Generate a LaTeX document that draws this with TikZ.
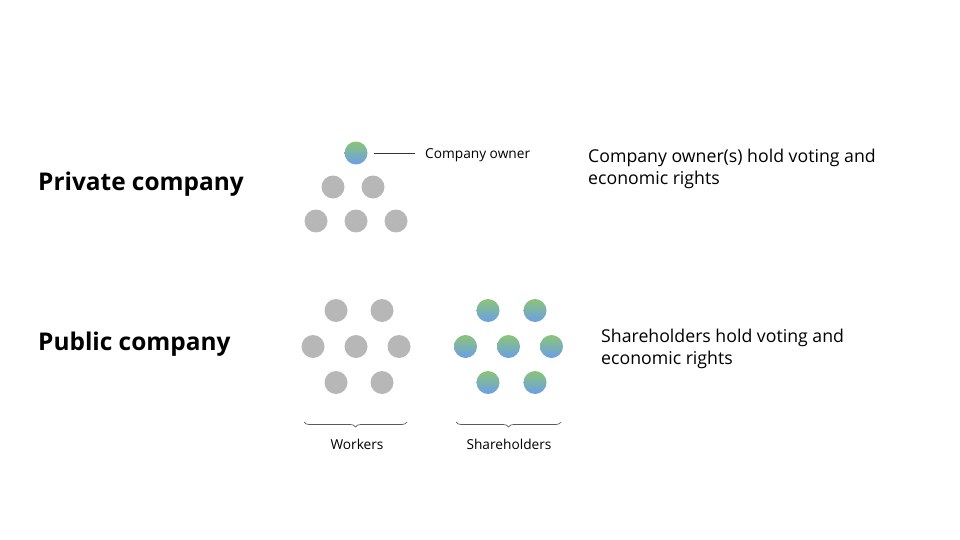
\documentclass[tikz,border=0pt]{standalone}
\usepackage{fontspec}
\setmainfont{Open Sans}
\usetikzlibrary{decorations.pathreplacing}

\definecolor{dotgray}{RGB}{183,183,183}
\definecolor{dottop}{RGB}{138,197,118}
\definecolor{dotbot}{RGB}{108,158,232}
\definecolor{bracegray}{RGB}{90,90,90}

\tikzset{
  worker/.style={circle, fill=dotgray, minimum size=23pt, inner sep=0pt},
  holder/.style={circle, top color=dottop, bottom color=dotbot, minimum size=23pt, inner sep=0pt},
  title/.style={anchor=base west, inner sep=0pt, font=\fontsize{24.4}{28}\selectfont\bfseries},
  note/.style={anchor=base west, inner sep=0pt, align=left, font=\fontsize{17.7}{22}\selectfont},
  small/.style={inner sep=0pt, font=\fontsize{13.7}{16}\selectfont},
  bracket/.style={decorate, decoration={brace, amplitude=5pt}, draw=bracegray, line width=0.7pt}
}

\begin{document}
\begin{tikzpicture}[x=1pt, y=-1pt]
                        \useasboundingbox (0, 0) rectangle (960, 540);
                        % Row titles:
                        \node[title](T1) at (38, 190.5){Private company};
                        \node[title](T2) at (38, 350){Public company};
                        % Private company dots:
                        \node[holder](O1) at (356, 153){};
                        \node[worker](P1) at (333, 187){};
                        \node[worker](P2) at (373, 187){};
                        \node[worker](P3) at (316, 221){};
                        \node[worker](P4) at (356, 221){};
                        \node[worker](P5) at (396, 221){};
                        \node[small, anchor=base west](L1) at (425, 158.3){Company owner};
                        \draw[line width=0.6pt, black!80] ([xshift=6pt]O1.east) -- ([xshift=-10pt]O1.east -| L1.west);
                        \node[note](R1) at (588, 184.3){Company owner(s) hold voting and\\economic rights};
                        % Public company, workers:
                        \node[worker](W1) at (336, 310.5){};
                        \node[worker](W2) at (382, 310.5){};
                        \node[worker](W3) at (313, 346.5){};
                        \node[worker](W4) at (356, 346.5){};
                        \node[worker](W5) at (399, 346.5){};
                        \node[worker](W6) at (336, 382.5){};
                        \node[worker](W7) at (382, 382.5){};
                        % Public company, shareholders:
                        \node[holder](S1) at (488, 310.5){};
                        \node[holder](S2) at (535, 310.5){};
                        \node[holder](S3) at (465.5, 346.5){};
                        \node[holder](S4) at (508.5, 346.5){};
                        \node[holder](S5) at (551.5, 346.5){};
                        \node[holder](S6) at (488, 382.5){};
                        \node[holder](S7) at (535, 382.5){};
                        \node[note](R2) at (601, 364.3){Shareholders hold voting and\\economic rights};
                        % Braces and labels:
                        \coordinate (B1) at (407, 422);
                        \coordinate (B2) at (304, 422);
                        \coordinate (B3) at (561, 422);
                        \coordinate (B4) at (456, 422);
                        \draw[bracket] (B1) -- (B2);
                        \draw[bracket] (B3) -- (B4);
                        \node[small, anchor=base](L2) at (357, 449){Workers};
                        \node[small, anchor=base](L3) at (509, 449){Shareholders};
                    \end{tikzpicture}
\end{document}
